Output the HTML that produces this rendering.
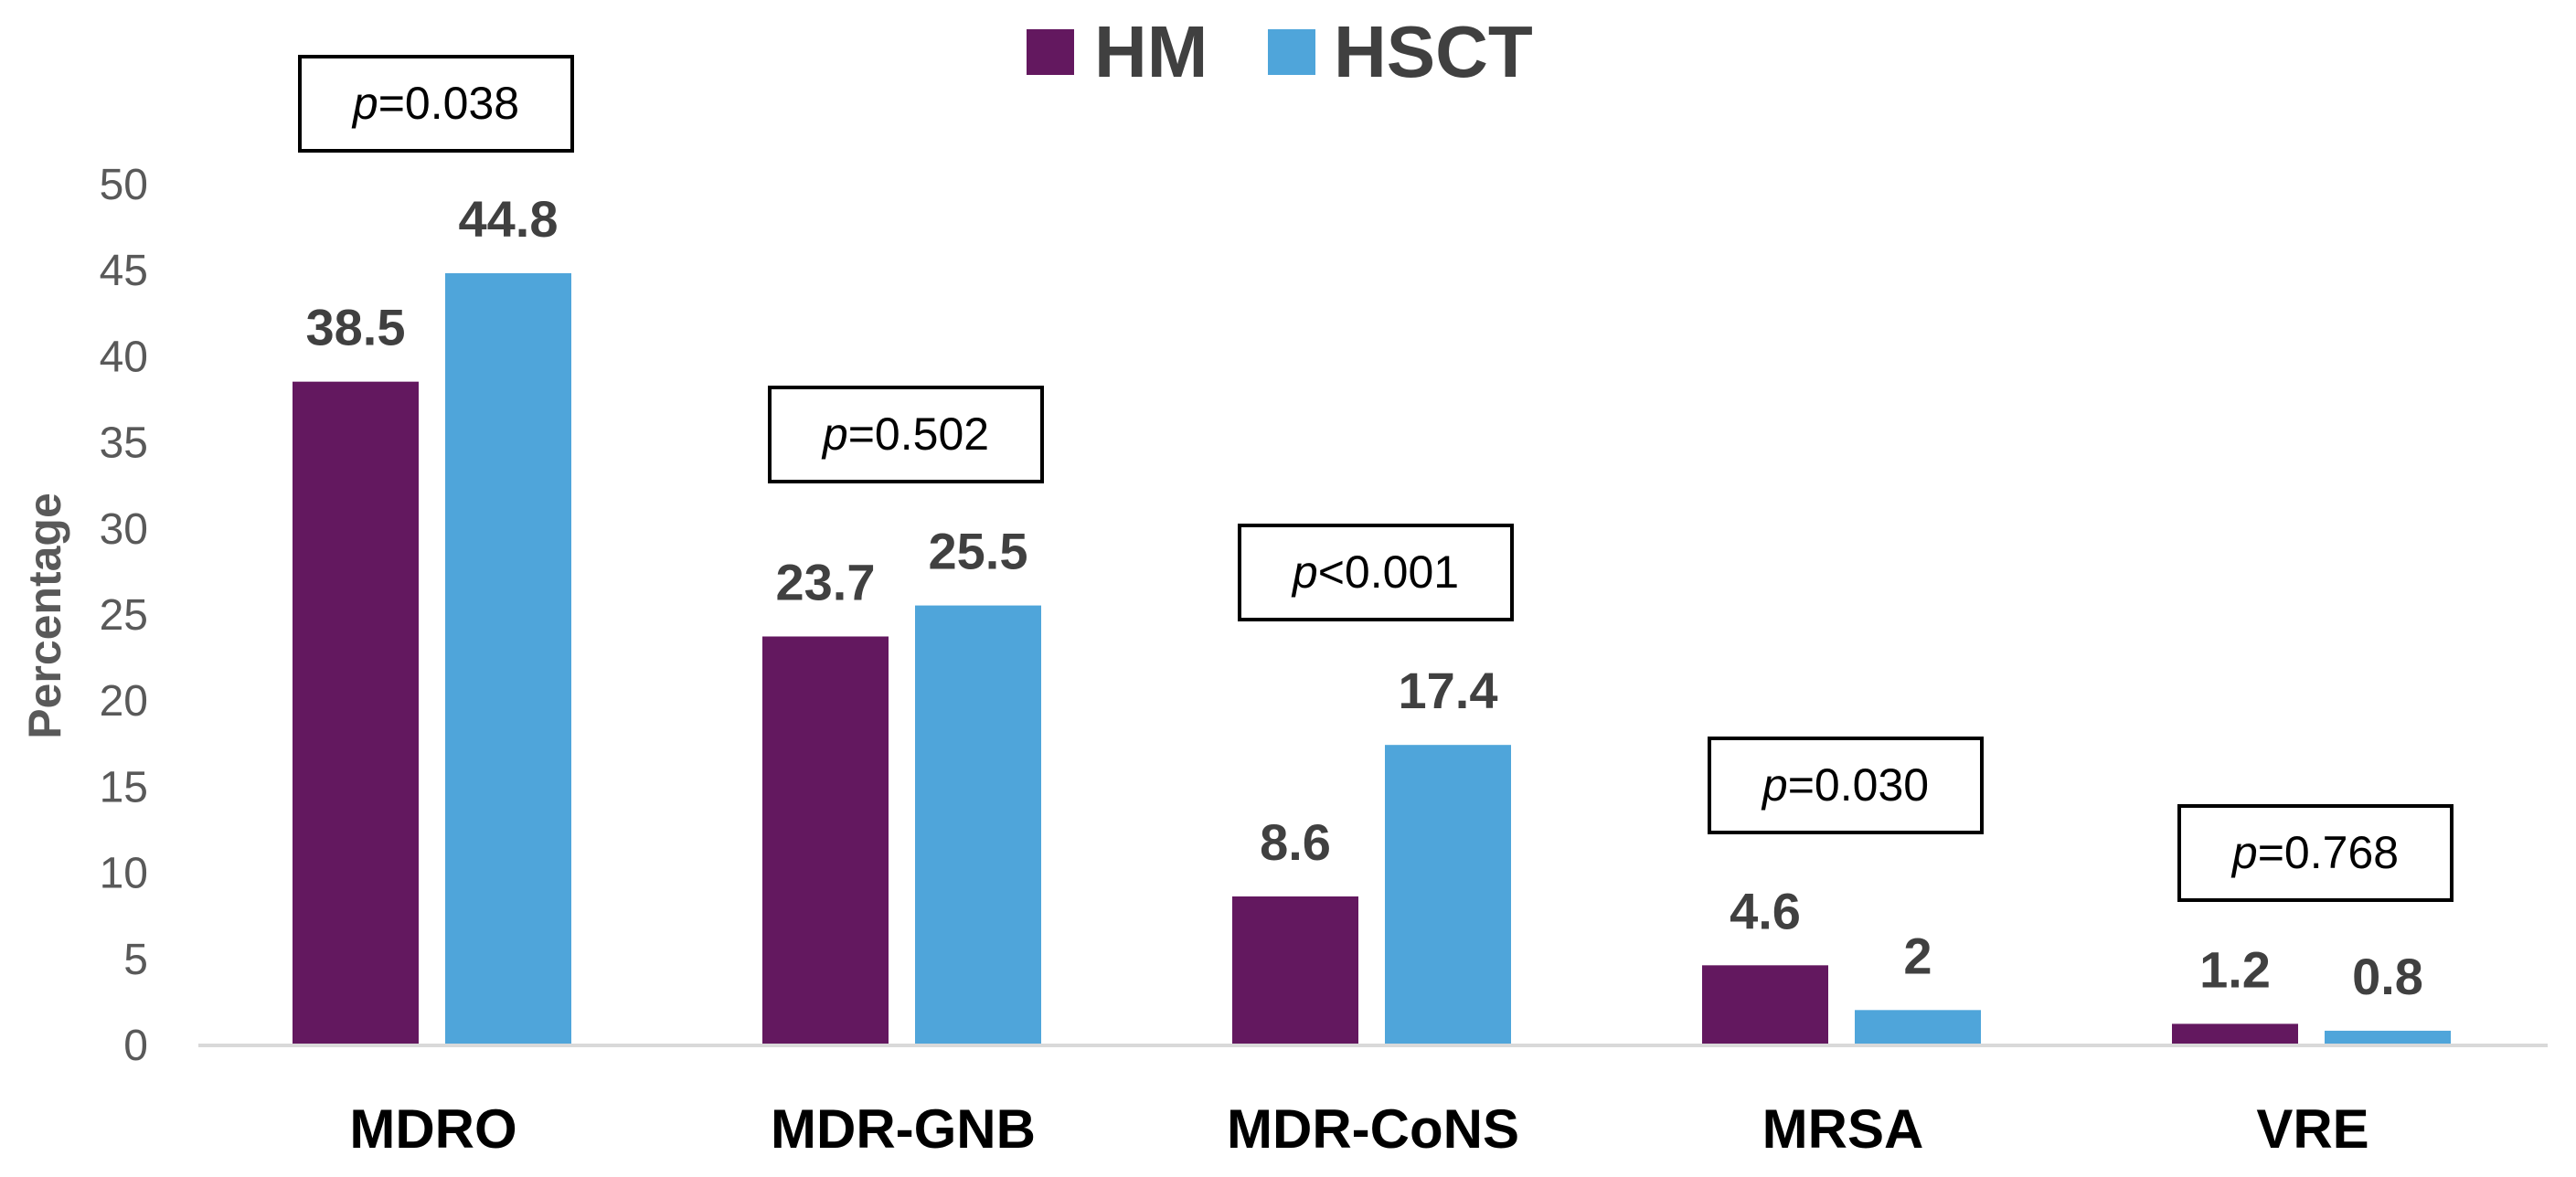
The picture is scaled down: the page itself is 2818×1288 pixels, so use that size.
<!DOCTYPE html>
<html><head><meta charset="utf-8"><style>
html,body{margin:0;padding:0;background:#fff;width:2818px;height:1288px;overflow:hidden}
svg text{font-family:"Liberation Sans",Arial,sans-serif}
</style></head><body>
<svg id="chart" width="2818" height="1288" viewBox="0 0 2818 1288" xmlns="http://www.w3.org/2000/svg">
<g id="legend">
 <rect x="1123" y="32" width="52" height="50" fill="#63185F"/>
 <text x="1197" y="84" font-size="80" font-weight="bold" fill="#404040">HM</text>
 <rect x="1387" y="32" width="52" height="50" fill="#4FA5DA"/>
 <text x="1459" y="84" font-size="80" font-weight="bold" fill="#404040">HSCT</text>
</g>
<text transform="translate(66,674) rotate(-90)" text-anchor="middle" font-size="50" font-weight="bold" fill="#595959">Percentage</text>
<g id="yticks"></g>
<g id="bars"></g>
<line x1="217" y1="1144" x2="2787" y2="1144" stroke="#D9D9D9" stroke-width="4"/>
<g id="xlabels"></g>
<g id="pboxes"></g>
</svg>
<script>
const categories = ["MDRO","MDR-GNB","MDR-CoNS","MRSA","VRE"];
const hmValues = [38.5,23.7,8.6,4.6,1.2];
const hsctValues = [44.8,25.5,17.4,2,0.8];
const hmLabels = ["38.5","23.7","8.6","4.6","1.2"];
const hsctLabels = ["44.8","25.5","17.4","2","0.8"];
const yTicks = [0,5,10,15,20,25,30,35,40,45,50];
const pOps = ["=0.038","=0.502","<0.001","=0.030","=0.768"];
const pBoxTops = [62,424,575,808,882];

const NS="http://www.w3.org/2000/svg";
const x0=217, groupW=514, barW=138, yBase=1143, yTopPx=201, yMax=50;
function yScale(v){return yBase-(v/yMax)*(yBase-yTopPx);}
function groupCenter(i){return x0+groupW*(i+0.5);}
function mk(tag,attrs,parent,txt){const e=document.createElementNS(NS,tag);for(const k in attrs)e.setAttribute(k,attrs[k]);if(txt!==undefined)e.textContent=txt;parent.appendChild(e);return e;}

const yt=document.getElementById('yticks');
yTicks.forEach(t=>{
 const e=mk('text',{x:162,y:yScale(t)+17,'text-anchor':'end','font-size':48,fill:'#595959'},yt,String(t));
 
 
});

const bars=document.getElementById('bars');
const xl=document.getElementById('xlabels');
const pb=document.getElementById('pboxes');
categories.forEach((c,i)=>{
 const cx=groupCenter(i);
 const hx=cx-154, sx=cx+13;
 const hy=yScale(hmValues[i]), sy=yScale(hsctValues[i]);
 const r1=mk('rect',{x:hx,y:hy,width:barW,height:yBase-hy,fill:'#63185F'},bars);
 
 
 const r2=mk('rect',{x:sx,y:sy,width:barW,height:yBase-sy,fill:'#4FA5DA'},bars);
 
 
 const l1=mk('text',{x:hx+barW/2,y:hy-40,'text-anchor':'middle','font-size':56,'font-weight':'bold',fill:'#404040'},bars,hmLabels[i]);
 
 
 const l2=mk('text',{x:sx+barW/2,y:sy-40,'text-anchor':'middle','font-size':56,'font-weight':'bold',fill:'#404040'},bars,hsctLabels[i]);
 
 
 const cl=mk('text',{x:cx,y:1256,'text-anchor':'middle','font-size':60,'font-weight':'bold',fill:'#000'},xl,c);
 
 
 const bt=pBoxTops[i];
 const br=mk('rect',{x:cx-146,y:bt,width:298,height:103,fill:'#fff',stroke:'#000','stroke-width':4},pb);
 
 
 const pt=mk('text',{x:cx+3,y:bt+68,'text-anchor':'middle','font-size':50,fill:'#000'},pb);
 
 
 mk('tspan',{'font-style':'italic'},pt,'p');
 mk('tspan',{},pt,pOps[i]);
});
</script>
</body></html>
